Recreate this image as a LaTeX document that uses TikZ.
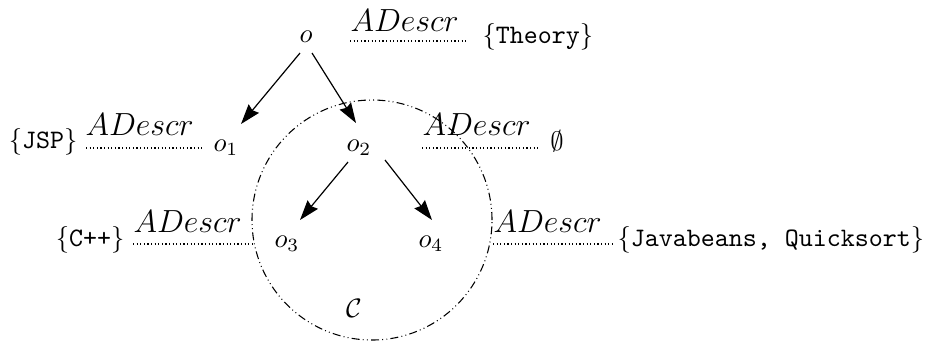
\documentclass[tikz,border=0pt]{standalone}
\usetikzlibrary{arrows.meta}
\begin{document}
\begin{tikzpicture}[x=0.375pt,y=-0.375pt,
  obj/.style={inner sep=0pt,anchor=base},
  lbl/.style={inner sep=0pt,anchor=base west,font=\large},
  val/.style={inner sep=0pt},
  dotline/.style={line width=0.4pt,dash pattern=on 0.45pt off 0.9pt},
  arr/.style={line width=0.45pt,-{Stealth[length=7.5pt,width=5pt,inset=0.8pt]}},
  cluster/.style={line width=0.4pt,dash pattern=on 3pt off 1.2pt on 0.35pt off 1.2pt on 0.35pt off 1.2pt}]
\useasboundingbox (0,0) rectangle (934,341);
% objects
\node[obj] (o)  at (306,42)  {$o$};
\node[obj] (o1) at (226,151) {$o_1$};
\node[obj] (o2) at (359,151) {$o_2$};
\node[obj] (o3) at (287,247) {$o_3$};
\node[obj] (o4) at (431,247) {$o_4$};
\node[obj] (C)  at (354,317) {$\mathcal{C}$};
% cluster circle
\node[cluster,draw,circle,minimum size=240*0.375pt,inner sep=0pt] (circ) at (372,220) {};
% arrows
\draw[arr] ([shift={(-6,11)}]o.base) -- ([shift={(15,-27)}]o1.base);
\draw[arr] ([shift={(6,11)}]o.base) -- ([shift={(-3,-28)}]o2.base);
\draw[arr] ([shift={(-11,11)}]o2.base) -- ([shift={(13,-27)}]o3.base);
\draw[arr] ([shift={(26,9)}]o2.base) -- ([shift={(1,-27)}]o4.base);
% description lines
\coordinate (a0) at (350,41);  \coordinate (b0) at (468,41);
\coordinate (a1) at (86,148);  \coordinate (b1) at (204,148);
\coordinate (a2) at (422,148); \coordinate (b2) at (540,148);
\coordinate (a3) at (133,244); \coordinate (b3) at (252,244);
\coordinate (a4) at (493,244); \coordinate (b4) at (612,244);
\draw[dotline] (a0) -- (b0);
\draw[dotline] (a1) -- (b1);
\draw[dotline] (a2) -- (b2);
\draw[dotline] (a3) -- (b3);
\draw[dotline] (a4) -- (b4);
\node[lbl] (d0) at (350,31)  {$ADescr$};
\node[lbl] (d1) at (85,135)  {$ADescr$};
\node[lbl] (d2) at (422,135) {$ADescr$};
\node[lbl] (d3) at (133,232) {$ADescr$};
\node[lbl] (d4) at (493,232) {$ADescr$};
% values
\node[val,anchor=base west] (v0) at (482,43)  {$\{$\texttt{Theory}$\}$};
\node[val,anchor=base east] (v1) at (78,148)  {$\{$\texttt{JSP}$\}$};
\node[val,anchor=base]      (v2) at (557,150) {$\emptyset$};
\node[val,anchor=base east] (v3) at (125,246) {$\{$\texttt{C++}$\}$};
\node[val,anchor=base west] (v4) at (617,246) {$\{$\texttt{Javabeans, Quicksort}$\}$};
\end{tikzpicture}
\end{document}
